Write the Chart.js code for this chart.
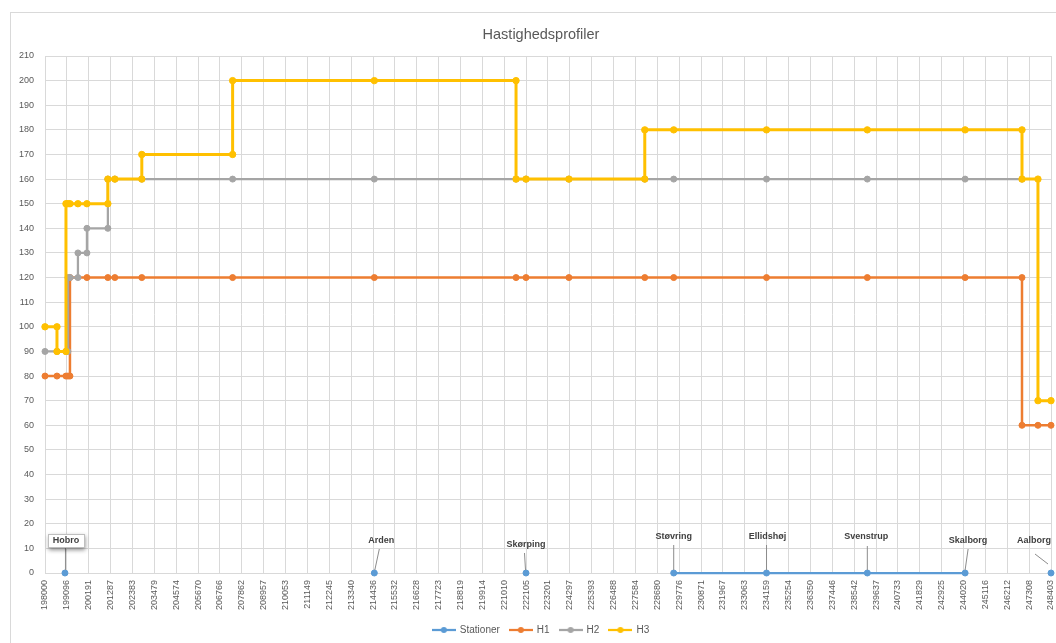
<!DOCTYPE html>
<html>
<head>
<meta charset="utf-8">
<title>Hastighedsprofiler</title>
<script src="https://cdn.jsdelivr.net/npm/chart.js@4.4.1/dist/chart.umd.min.js"></script>
<style>
  html, body { margin: 0; padding: 0; background: #fff; overflow: hidden; }
  #wrap { width: 1056px; height: 648px; position: relative; }
</style>
</head>
<body>
<div id="wrap"><canvas id="chart" width="1056" height="648"></canvas></div>
<script>
// Kilometrering (x) and speed (km/h) for each profile
const h1Km = [198000, 198600, 199050, 199150, 199250, 199250, 200100, 201150, 201500, 202850, 207400, 214500, 221600, 222100, 224250, 228050, 229500, 234150, 239200, 244100, 246950, 246950, 247750, 248403];
const h1Speed = [80, 80, 80, 80, 80, 120, 120, 120, 120, 120, 120, 120, 120, 120, 120, 120, 120, 120, 120, 120, 120, 60, 60, 60];

const h2Km = [198000, 198600, 199050, 199150, 199150, 199250, 199650, 199650, 200100, 200100, 201150, 201150, 201500, 202850, 207400, 214500, 221600, 222100, 224250, 228050, 229500, 234150, 239200, 244100, 246950];
const h2Speed = [90, 90, 90, 90, 120, 120, 120, 130, 130, 140, 140, 160, 160, 160, 160, 160, 160, 160, 160, 160, 160, 160, 160, 160, 160];

const h3Km = [198000, 198600, 198600, 199050, 199050, 199150, 199250, 199650, 200100, 201150, 201150, 201500, 202850, 202850, 207400, 207400, 214500, 221600, 221600, 222100, 224250, 228050, 228050, 229500, 234150, 239200, 244100, 246950, 246950, 247750, 247750, 248403];
const h3Speed = [100, 100, 90, 90, 150, 150, 150, 150, 150, 150, 160, 160, 160, 170, 170, 200, 200, 200, 160, 160, 160, 160, 180, 180, 180, 180, 180, 180, 160, 160, 70, 70];

// Stations along the line
const stationNames = ['Hobro', 'Arden', 'Skørping', 'Støvring', 'Ellidshøj', 'Svenstrup', 'Skalborg', 'Aalborg'];
const stationKm = [199000, 214500, 222100, 229500, 234150, 239200, 244100, 248403];
const stationLevel = [0, 0, 0, 0, 0, 0, 0, 0];
// true when the station is joined by a line to the previous one
const stationLinked = [false, false, false, false, true, true, true, false];

// Axis tick labels
const kmTicks = [198000, 199096, 200191, 201287, 202383, 203479, 204574, 205670, 206766, 207862, 208957, 210053, 211149, 212245, 213340, 214436, 215532, 216628, 217723, 218819, 219914, 221010, 222105, 223201, 224297, 225393, 226488, 227584, 228680, 229776, 230871, 231967, 233063, 234159, 235254, 236350, 237446, 238542, 239637, 240733, 241829, 242925, 244020, 245116, 246212, 247308, 248403];
const speedTicks = [0, 10, 20, 30, 40, 50, 60, 70, 80, 90, 100, 110, 120, 130, 140, 150, 160, 170, 180, 190, 200, 210];

const FONT = '"Liberation Sans", Arial, sans-serif';
const TEXT = '#595959';
const GRID = '#D9D9D9';
const COLORS = { st: '#5B9BD5', h1: '#ED7D31', h2: '#A5A5A5', h3: '#FFC000' };

const pairs = (xs, ys) => xs.map((x, i) => ({ x, y: ys[i] }));

// Legend icon: short line with a marker in the middle
function legendIcon(color, lw) {
  const c = document.createElement('canvas');
  c.width = 24; c.height = 8;
  const g = c.getContext('2d');
  g.strokeStyle = color; g.lineWidth = lw;
  g.beginPath(); g.moveTo(0, 4); g.lineTo(24, 4); g.stroke();
  g.fillStyle = color;
  g.beginPath(); g.arc(12, 4, 3, 0, Math.PI * 2); g.fill();
  return c;
}
const icons = [legendIcon(COLORS.st, 2.25), legendIcon(COLORS.h1, 2.25), legendIcon(COLORS.h2, 2.25), legendIcon(COLORS.h3, 2.25)];

// Placement of the station captions relative to their marker
const captionPlacement = [
  { dx: 1, dy: -32, box: true, l1: [0.5, -25], l2: [0.5, -3] },
  { dx: 7, dy: -32, l1: [5, -24], l2: [0.5, -3] },
  { dx: 0, dy: -28, l1: [-1.5, -20], l2: [-0.5, -3] },
  { dx: 0, dy: -36, l1: [0, -28], l2: [0, -3] },
  { dx: 1, dy: -36, l1: [0, -28], l2: [0, -3] },
  { dx: -1, dy: -36, l1: [0, -27], l2: [0, -3] },
  { dx: 3, dy: -32, l1: [3, -24], l2: [0, -3] },
  { dx: -17, dy: -32, l1: [-16, -19], l2: [-3, -9] }
];

const framePlugin = {
  id: 'frame',
  // the chart frame continues past the right edge, so title and legend are centred on the wider frame
  afterLayout(chart) {
    const shift = 29;
    if (chart.titleBlock) chart.titleBlock.left += shift;
    if (chart.legend) chart.legend.left += shift;
  },
  beforeDraw(chart) {
    const ctx = chart.ctx;
    ctx.save();
    ctx.fillStyle = '#fff';
    ctx.fillRect(0, 0, chart.width, chart.height);
    ctx.strokeStyle = GRID;
    ctx.lineWidth = 1;
    ctx.strokeRect(10.5, 12.5, 1200, 700);
    ctx.restore();
  }
};

const stationCaptions = {
  id: 'stationCaptions',
  afterDatasetsDraw(chart) {
    const ctx = chart.ctx;
    const xs = chart.scales.x, ys = chart.scales.y;
    ctx.save();
    ctx.font = 'bold 9px ' + FONT;
    ctx.textAlign = 'center';
    ctx.textBaseline = 'middle';
    stationNames.forEach((name, i) => {
      const p = captionPlacement[i];
      const px = xs.getPixelForValue(stationKm[i]);
      const py = ys.getPixelForValue(stationLevel[i]);
      const tx = px + p.dx, ty = py + p.dy;
      // leader line
      ctx.strokeStyle = '#8C8C8C';
      ctx.lineWidth = 1;
      ctx.beginPath();
      ctx.moveTo(px + p.l1[0], py + p.l1[1]);
      ctx.lineTo(px + p.l2[0], py + p.l2[1]);
      ctx.stroke();
      if (p.box) {
        const w = ctx.measureText(name).width + 10;
        ctx.save();
        ctx.shadowColor = 'rgba(0,0,0,0.45)';
        ctx.shadowBlur = 4;
        ctx.shadowOffsetX = 1;
        ctx.shadowOffsetY = 2;
        ctx.fillStyle = '#fff';
        ctx.fillRect(tx - w / 2, ty - 7, w, 14);
        ctx.restore();
        ctx.strokeStyle = '#BFBFBF';
        ctx.strokeRect(Math.round(tx - w / 2) + 0.5, ty - 6.5, Math.round(w), 13);
      }
      ctx.fillStyle = '#404040';
      ctx.fillText(name, tx, ty);
    });
    ctx.restore();
  }
};

const lineDefaults = { tension: 0, clip: false, pointBorderWidth: 1 };

new Chart(document.getElementById('chart'), {
  type: 'line',
  data: {
    datasets: [
      Object.assign({
        label: 'Stationer',
        data: pairs(stationKm, stationLevel),
        borderColor: COLORS.st, backgroundColor: COLORS.st,
        pointBackgroundColor: COLORS.st, pointBorderColor: COLORS.st,
        borderWidth: 2.25, pointRadius: 3,
        segment: { borderColor: c => stationLinked[c.p1DataIndex] ? COLORS.st : 'rgba(0,0,0,0)' },
        order: 0
      }, lineDefaults),
      Object.assign({
        label: 'H1',
        data: pairs(h1Km, h1Speed),
        borderColor: COLORS.h1, backgroundColor: COLORS.h1,
        pointBackgroundColor: COLORS.h1, pointBorderColor: COLORS.h1,
        borderWidth: 2.5, pointRadius: 3, order: 3
      }, lineDefaults),
      Object.assign({
        label: 'H2',
        data: pairs(h2Km, h2Speed),
        borderColor: COLORS.h2, backgroundColor: COLORS.h2,
        pointBackgroundColor: COLORS.h2, pointBorderColor: COLORS.h2,
        borderWidth: 2.25, pointRadius: 3, order: 2
      }, lineDefaults),
      Object.assign({
        label: 'H3',
        data: pairs(h3Km, h3Speed),
        borderColor: COLORS.h3, backgroundColor: COLORS.h3,
        pointBackgroundColor: COLORS.h3, pointBorderColor: COLORS.h3,
        borderWidth: 3, pointRadius: 3.2, order: 1
      }, lineDefaults)
    ]
  },
  options: {
    responsive: false,
    animation: false,
    devicePixelRatio: 1,
    layout: { padding: { top: 12, right: 3, bottom: 3, left: 0 } },
    scales: {
      x: {
        type: 'linear',
        min: kmTicks[0],
        max: kmTicks[kmTicks.length - 1],
        afterBuildTicks: s => { s.ticks = kmTicks.map(v => ({ value: v })); },
        afterFit: s => { s.height = 42; s.paddingLeft = 0; s.paddingRight = 0; },
        ticks: {
          autoSkip: false, minRotation: 90, maxRotation: 90,
          padding: 7, color: TEXT, font: { family: FONT, size: 9 },
          callback: v => String(Math.round(v))
        },
        grid: { color: GRID, drawTicks: false },
        border: { color: GRID }
      },
      y: {
        min: 0, max: 210,
        afterBuildTicks: s => { s.ticks = speedTicks.map(v => ({ value: v })); },
        afterFit: s => { s.width = 45; },
        ticks: { padding: 11, color: TEXT, font: { family: FONT, size: 9 } },
        grid: { color: GRID, drawTicks: false },
        border: { color: GRID }
      }
    },
    plugins: {
      title: {
        display: true,
        text: 'Hastighedsprofiler',
        color: TEXT,
        font: { family: FONT, size: 14.5, weight: 'normal' },
        padding: { top: 14, bottom: 12.6 }
      },
      legend: {
        position: 'bottom',
        labels: {
          usePointStyle: true,
          pointStyleWidth: 22,
          padding: 10,
          color: TEXT,
          font: { family: FONT, size: 10 },
          sort: (a, b) => a.datasetIndex - b.datasetIndex,
          generateLabels: chart => Chart.defaults.plugins.legend.labels.generateLabels(chart).map(item => {
            item.pointStyle = icons[item.datasetIndex];
            return item;
          })
        }
      },
      tooltip: { enabled: false }
    }
  },
  plugins: [framePlugin, stationCaptions]
});
</script>
</body>
</html>
